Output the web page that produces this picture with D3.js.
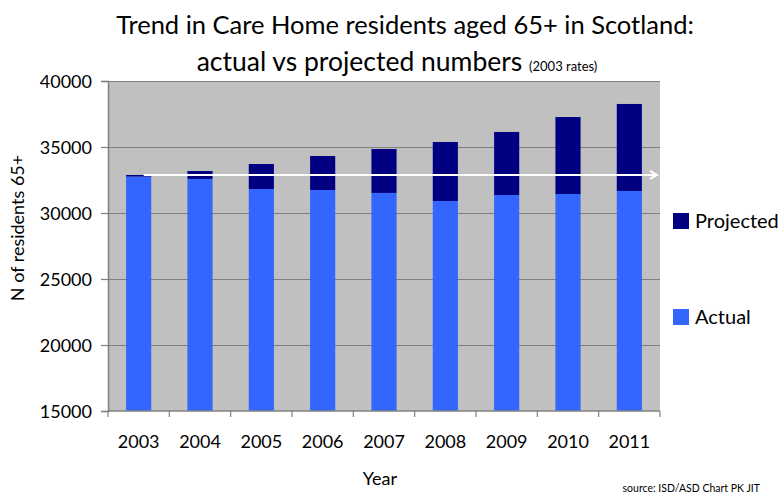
<!DOCTYPE html>
<html>
<head>
<meta charset="utf-8">
<script src="https://cdn.jsdelivr.net/npm/d3@7"></script>
<style>
  html, body { margin: 0; padding: 0; background: #ffffff; }
  svg { display: block; }
  text { font-family: Lato, "Open Sans", sans-serif; fill: #000; }
</style>
</head>
<body>
<svg id="chart" width="780" height="496"></svg>
<script>
// Care home residents aged 65+ in Scotland
const years = ["2003", "2004", "2005", "2006", "2007", "2008", "2009", "2010", "2011"];
const actual = [32760, 32580, 31820, 31740, 31520, 30910, 31360, 31440, 31670];
const projected = [32880, 33180, 33710, 34320, 34850, 35380, 36140, 37270, 38260];
const yTicks = [15000, 20000, 25000, 30000, 35000, 40000];
const seriesNames = ["Projected", "Actual"];
const seriesColors = ["#000080", "#3366ff"];

const svg = d3.select("#chart");
const margin = { top: 81, left: 108, right: 120, bottom: 85 };
const W = 780 - margin.left - margin.right;   // 552
const H = 496 - margin.top - margin.bottom;   // 330

const x = d3.scaleBand().domain(years).range([0, W]).paddingInner(0.59).paddingOuter(0.295);
const y = d3.scaleLinear().domain([15000, 40000]).range([H, 0]);

const g = svg.append("g").attr("transform", `translate(${margin.left},${margin.top})`);

// plot background
g.append("rect").attr("x", 0).attr("y", 0).attr("width", W).attr("height", H).attr("fill", "#c0c0c0");

// horizontal gridlines
g.append("g").selectAll("line")
  .data(yTicks.filter(t => t > 15000))
  .join("line")
  .attr("x1", 0).attr("x2", W)
  .attr("y1", d => Math.round(y(d)) + 0.5).attr("y2", d => Math.round(y(d)) + 0.5)
  .attr("stroke", "#808080").attr("stroke-width", 1.2);

// bars: actual from the axis, projected excess stacked on top
const rows = years.map((yr, i) => ({ year: yr, actual: actual[i], projected: projected[i] }));

g.append("g").selectAll("rect")
  .data(rows)
  .join("rect")
  .attr("x", d => x(d.year))
  .attr("width", x.bandwidth())
  .attr("y", d => y(d.actual))
  .attr("height", d => y(15000) - y(d.actual))
  .attr("fill", seriesColors[1]);

g.append("g").selectAll("rect")
  .data(rows)
  .join("rect")
  .attr("x", d => x(d.year))
  .attr("width", x.bandwidth())
  .attr("y", d => y(d.projected))
  .attr("height", d => y(d.actual) - y(d.projected))
  .attr("fill", seriesColors[0]);

// white reference arrow at the 2003 level
const refY = y(projected[0]);
const arrowStart = x(years[0]) + x.bandwidth() * 0.7;
const arrowEnd = W - 3;
g.append("line")
  .attr("x1", arrowStart).attr("x2", arrowEnd)
  .attr("y1", refY).attr("y2", refY)
  .attr("stroke", "#ffffff").attr("stroke-width", 2);
g.append("path")
  .attr("d", `M${arrowEnd - 7},${refY - 4}L${arrowEnd},${refY}L${arrowEnd - 7},${refY + 4}`)
  .attr("fill", "none").attr("stroke", "#ffffff").attr("stroke-width", 2);

// y axis
const yAxis = g.append("g")
  .call(d3.axisLeft(y).tickValues(yTicks).tickSize(7).tickPadding(9).tickFormat(d3.format("d")));
yAxis.select(".domain").attr("stroke", "#808080").attr("stroke-width", 1.5);
yAxis.selectAll(".tick line").attr("stroke", "#808080").attr("stroke-width", 1.2);
yAxis.selectAll("text").attr("font-size", 18).attr("font-family", "Lato, sans-serif").attr("dy", "0.36em");

// x axis: labels centred, ticks at category boundaries
const xAxis = g.append("g").attr("transform", `translate(0,${H})`)
  .call(d3.axisBottom(x).tickSize(0).tickPadding(24));
xAxis.select(".domain").remove();
xAxis.selectAll("text").attr("font-size", 18).attr("font-family", "Lato, sans-serif");
g.append("line")
  .attr("x1", 0).attr("x2", W).attr("y1", H).attr("y2", H)
  .attr("stroke", "#808080").attr("stroke-width", 1.5);
g.append("g").selectAll("line")
  .data(d3.range(years.length + 1))
  .join("line")
  .attr("x1", i => i * x.step()).attr("x2", i => i * x.step())
  .attr("y1", H).attr("y2", H + 6)
  .attr("stroke", "#808080").attr("stroke-width", 1.2);

// axis titles
svg.append("text")
  .attr("transform", `translate(24,${margin.top + H / 2 - 18}) rotate(-90)`)
  .attr("text-anchor", "middle").attr("font-size", 18)
  .text("N of residents 65+");
svg.append("text")
  .attr("x", 380).attr("y", 485)
  .attr("text-anchor", "middle").attr("font-size", 18)
  .text("Year");

// legend
const legend = svg.append("g").attr("transform", "translate(673,213)");
seriesNames.forEach((name, i) => {
  const row = legend.append("g").attr("transform", `translate(0,${i * 96})`);
  row.append("rect").attr("width", 16).attr("height", 16).attr("fill", seriesColors[i]);
  row.append("text").attr("x", 22).attr("y", 15).attr("font-size", 20).text(name);
});

// title
svg.append("text")
  .attr("x", 405).attr("y", 34)
  .attr("text-anchor", "middle").attr("font-size", 25.5)
  .text("Trend in Care Home residents aged 65+ in Scotland:");
const sub = svg.append("text")
  .attr("x", 397).attr("y", 71)
  .attr("text-anchor", "middle");
sub.append("tspan").attr("font-size", 26.5).text("actual vs projected numbers ");
sub.append("tspan").attr("font-size", 13).text("(2003 rates)");

// source note
svg.append("text")
  .attr("x", 760).attr("y", 492)
  .attr("text-anchor", "end").attr("font-size", 10.5)
  .text("source: ISD/ASD Chart PK JIT");
</script>
</body>
</html>
